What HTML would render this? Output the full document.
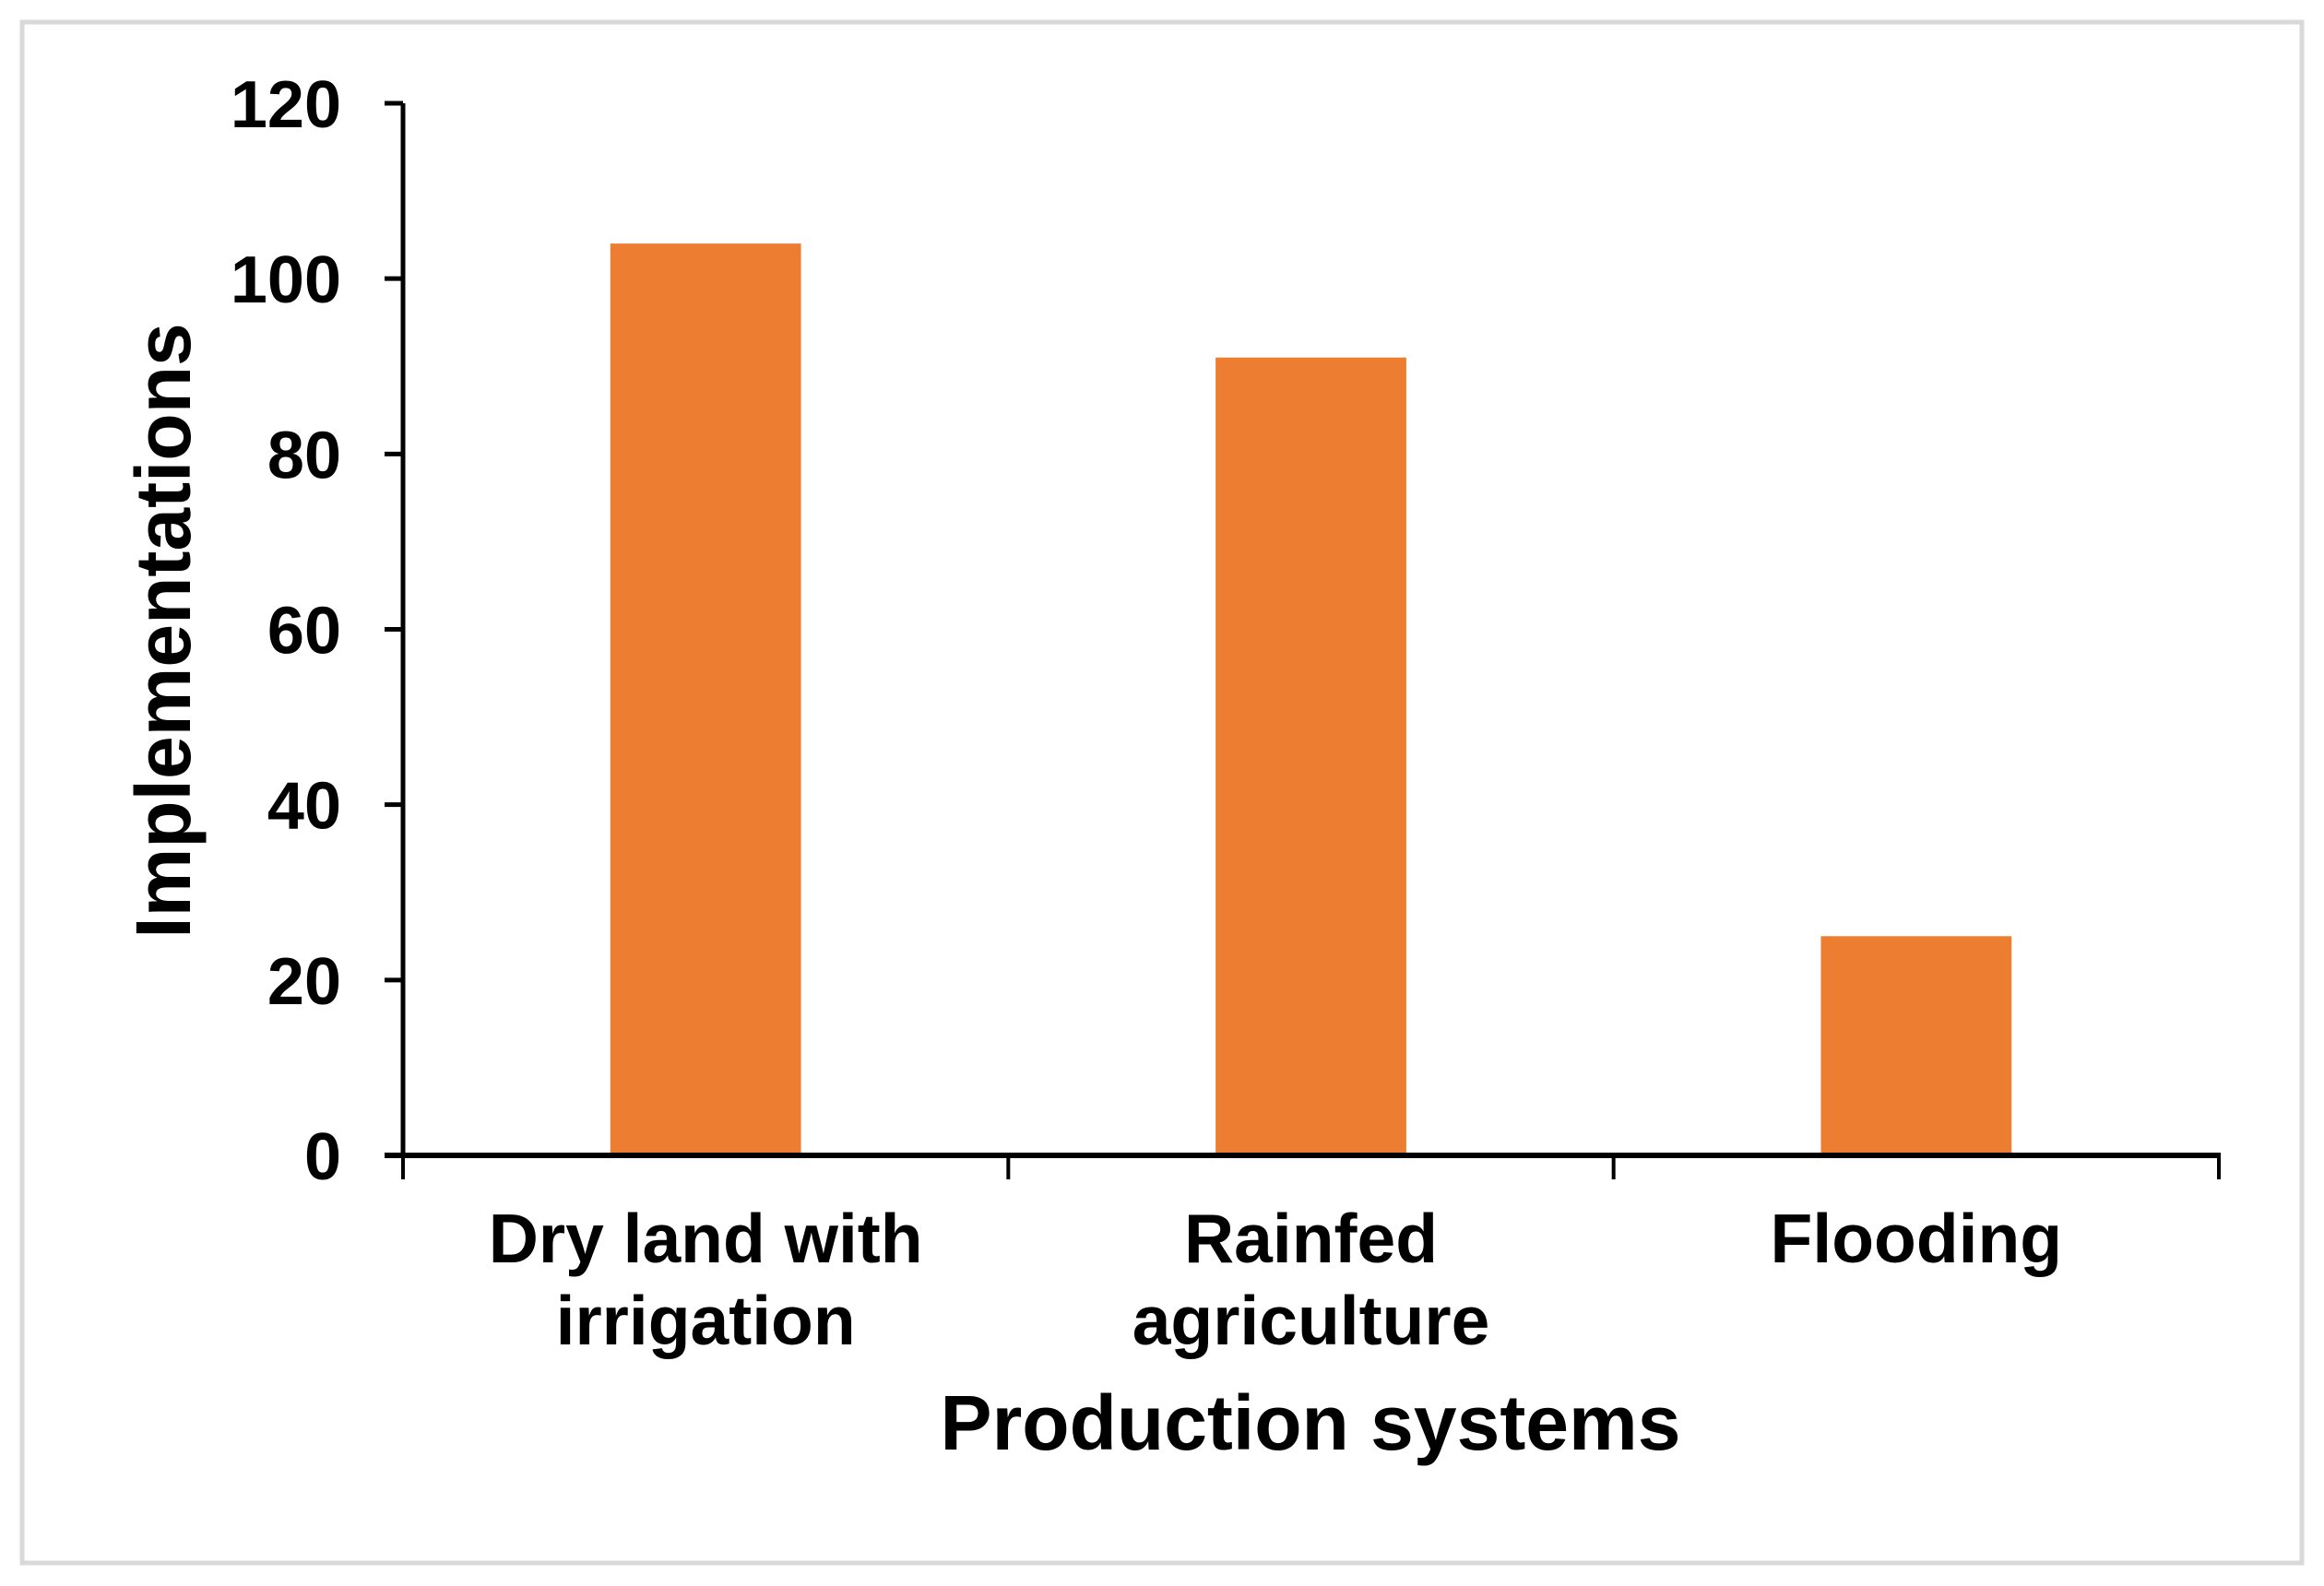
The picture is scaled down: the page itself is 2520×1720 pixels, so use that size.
<!DOCTYPE html>
<html><head><meta charset="utf-8"><style>
html,body{margin:0;padding:0;background:#fff;}
svg{display:block;font-family:"Liberation Sans",Arial,sans-serif;font-weight:bold;}
</style></head><body>
<svg id="chart" width="2520" height="1720" viewBox="0 0 2520 1720">
<rect x="24" y="24" width="2472" height="1671" fill="#fff" stroke="#d9d9d9" stroke-width="5"/>
<g id="plot"></g>
<text x="1421" y="1572" font-size="84" text-anchor="middle">Production systems</text>
<text transform="translate(206,684) rotate(-90)" font-size="84" text-anchor="middle">Implementations</text>
</svg>
<script>
const categories = [["Dry land with","irrigation"],["Rainfed","agriculture"],["Flooding"]];
const values = [104, 91, 25];
const yTicks = [0, 20, 40, 60, 80, 100, 120];
const NS = "http://www.w3.org/2000/svg";
const g = document.getElementById("plot");
const X0 = 437, X1 = 2406, Y0 = 1253, Y1 = 112, YMAX = 120;
const yScale = v => Y0 - (v / YMAX) * (Y0 - Y1);
const bandW = (X1 - X0) / categories.length;
const xBand = i => X0 + i * bandW;
function mk(tag, attrs){const e=document.createElementNS(NS,tag);for(const k in attrs)e.setAttribute(k,attrs[k]);g.appendChild(e);return e;}
values.forEach((v,i)=>{
  const bw = bandW*0.315;
  const b = mk("rect",{x:xBand(i)+bandW/2-bw/2,y:yScale(v),width:bw,height:Y0-yScale(v),fill:"#ed7d31"});
  
  
});
const ya = mk("line",{x1:X0,y1:Y1,x2:X0,y2:Y0,stroke:"#000","stroke-width":5});


yTicks.forEach(t=>{
  const y=yScale(t);
  const tk=mk("line",{x1:X0-20,y1:y,x2:X0,y2:y,stroke:"#000","stroke-width":5});
  
  
  const tx=mk("text",{x:370,y:y+26,"font-size":72,"text-anchor":"end"});
  tx.textContent=t;
  
  
});
const xa = mk("line",{x1:X0-20,y1:Y0,x2:X1+2,y2:Y0,stroke:"#000","stroke-width":6});


for(let i=0;i<=categories.length;i++){
  const tk=mk("line",{x1:xBand(i),y1:Y0,x2:xBand(i),y2:Y0+26,stroke:"#000","stroke-width":4});
  
  
}
categories.forEach((lines,i)=>{
  const cx=xBand(i)+bandW/2;
  lines.forEach((ln,j)=>{
    const tx=mk("text",{x:cx,y:1369+j*89,"font-size":75,"text-anchor":"middle"});
    tx.textContent=ln;
    
    
  });
});
</script>
</body></html>
